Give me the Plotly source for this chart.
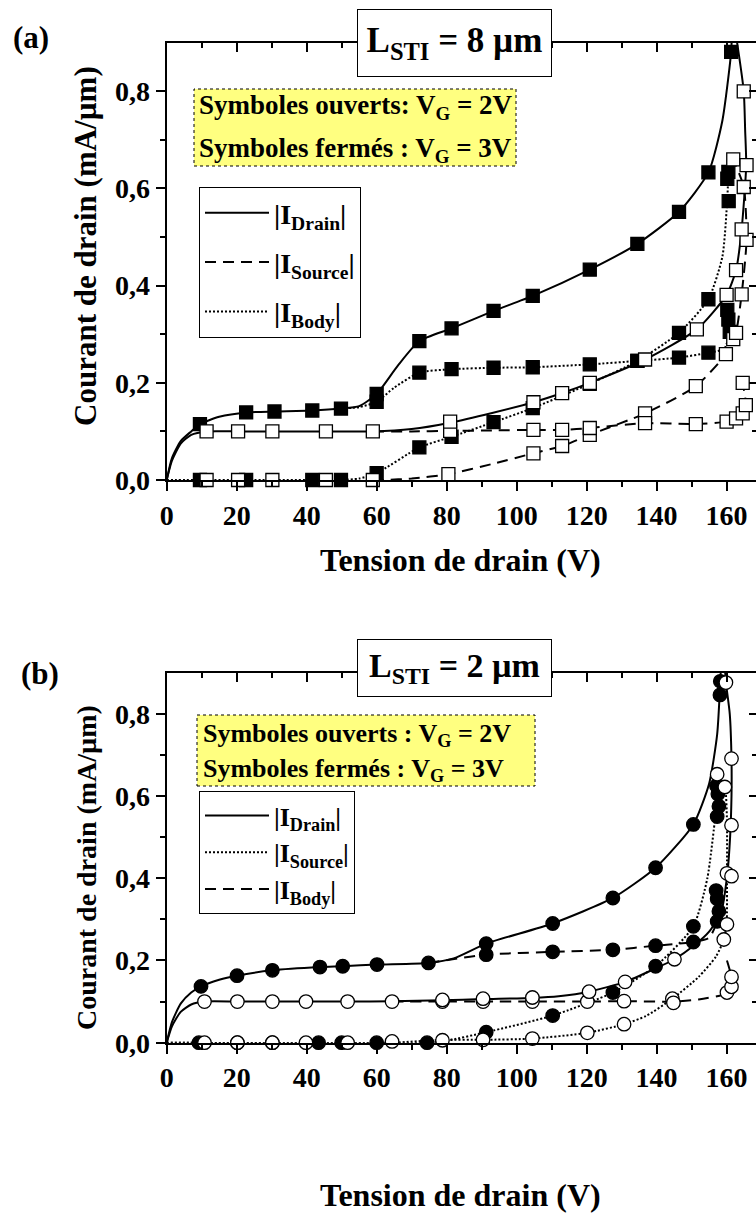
import plotly.graph_objects as go

FONT = "Liberation Serif"

# ---------------- Panel (a) : L_STI = 8 um (squares) ----------------
# VG = 3V (closed symbols)
a_d3_line_v = [0, 1.5, 4, 7, 9.5, 15, 22.7, 30.8, 41.6, 49.8, 55, 60, 66, 72.2, 81.4, 93.4, 104.6, 120.9, 134.5, 146.4, 154.8, 158.8, 161.3, 161.5]
a_d3_line_i = [0, 0.045, 0.08, 0.1, 0.115, 0.13, 0.139, 0.141, 0.143, 0.147, 0.152, 0.177, 0.235, 0.286, 0.312, 0.348, 0.379, 0.433, 0.486, 0.552, 0.633, 0.74, 0.881, 0.92]
a_d3_mark_v = [9.5, 22.7, 30.8, 41.6, 49.8, 60, 72.2, 81.4, 93.4, 104.6, 120.9, 134.5, 146.4, 154.8, 161.3]
a_d3_mark_i = [0.115, 0.139, 0.141, 0.143, 0.147, 0.177, 0.286, 0.312, 0.348, 0.379, 0.433, 0.486, 0.552, 0.633, 0.881]

a_up3_line_v = [49.8, 55, 60, 65, 72.2, 81.4, 93.4, 104.6, 120.9, 134.5, 146.4, 154.8, 159.3, 160.9, 160.5, 160.2]
a_up3_line_i = [0.147, 0.15, 0.161, 0.19, 0.221, 0.228, 0.231, 0.232, 0.238, 0.245, 0.252, 0.262, 0.27, 0.305, 0.33, 0.35]
a_up3_mark_v = [60, 72.2, 81.4, 93.4, 104.6, 120.9, 134.5, 146.4, 154.8, 160.9, 160.5, 160.2]
a_up3_mark_i = [0.161, 0.221, 0.228, 0.231, 0.232, 0.238, 0.245, 0.252, 0.262, 0.305, 0.33, 0.35]

a_lo3_line_v = [0, 9.5, 22.7, 41.6, 49.8, 55, 60, 72.2, 81.4, 93.4, 104.6, 120.9, 134.5, 146.4, 154.8, 158.8, 160.2, 160.5]
a_lo3_line_i = [0, 0, 0, 0, 0, 0.003, 0.014, 0.067, 0.089, 0.119, 0.148, 0.198, 0.245, 0.303, 0.372, 0.46, 0.579, 0.634]
a_lo3_mark_v = [9.5, 22.7, 41.6, 49.8, 60, 72.2, 81.4, 93.4, 104.6, 120.9, 134.5, 146.4, 154.8, 160.6, 160.2, 160.5]
a_lo3_mark_i = [0, 0, 0, 0, 0.014, 0.067, 0.089, 0.119, 0.148, 0.198, 0.245, 0.303, 0.372, 0.574, 0.62, 0.634]

# VG = 2V (open symbols)
a_d2_line_v = [0, 1.5, 4, 7, 11.4, 20.4, 30.2, 45.5, 58.9, 70, 81, 93, 104.8, 113, 120.9, 136.7, 151.5, 160, 162.7, 164.3, 165.6, 165.3, 164.9, 163]
a_d2_line_i = [0, 0.04, 0.075, 0.093, 0.1, 0.1, 0.1, 0.1, 0.1, 0.105, 0.118, 0.138, 0.16, 0.179, 0.2, 0.248, 0.31, 0.381, 0.432, 0.516, 0.648, 0.72, 0.8, 0.9]
a_d2_mark_v = [11.4, 20.4, 30.2, 45.5, 58.9, 81, 104.8, 113, 120.9, 136.7, 151.5, 160, 162.7, 164.3, 165.7, 164.9]
a_d2_mark_i = [0.1, 0.1, 0.1, 0.1, 0.1, 0.12, 0.16, 0.179, 0.2, 0.248, 0.31, 0.381, 0.432, 0.516, 0.648, 0.8]

a_pl2_line_v = [58.9, 70, 81, 93, 104.8, 113, 120.9, 136.7, 151.2, 160, 162.7, 164.6, 165.5, 164.6]
a_pl2_line_i = [0.1, 0.1, 0.101, 0.102, 0.103, 0.103, 0.107, 0.117, 0.115, 0.12, 0.127, 0.137, 0.154, 0.2]
a_pl2_mark_v = [81, 104.8, 113, 120.9, 136.7, 151.2, 160, 162.7, 164.6, 165.5, 164.6]
a_pl2_mark_i = [0.101, 0.103, 0.103, 0.107, 0.117, 0.115, 0.12, 0.127, 0.137, 0.154, 0.2]

a_ri2_line_v = [58.9, 62, 70, 80.5, 93, 104.8, 113, 120.9, 136.7, 151.2, 159.8, 161.9, 162.7, 164.3, 165.7, 164.9, 161.9]
a_ri2_line_i = [0, 0, 0.003, 0.012, 0.033, 0.055, 0.07, 0.093, 0.137, 0.193, 0.259, 0.29, 0.303, 0.382, 0.494, 0.603, 0.66]
a_ri2_mark_v = [11.4, 20.4, 30.2, 45.5, 58.9, 80.5, 104.8, 113, 120.9, 136.7, 151.2, 159.8, 161.9, 162.7, 164.3, 165.7, 164.9, 161.9]
a_ri2_mark_i = [0, 0, 0, 0, 0, 0.012, 0.055, 0.07, 0.093, 0.137, 0.193, 0.259, 0.29, 0.303, 0.382, 0.494, 0.603, 0.66]

# ---------------- Panel (b) : L_STI = 2 um (circles) ----------------
b_d3_line_v = [0, 1.5, 4, 7, 9.8, 15, 20.1, 30.2, 43.8, 50.3, 60.1, 74.8, 82, 91.3, 110.3, 127.5, 139.7, 150.5, 155, 157.3, 158.2, 158.4]
b_d3_line_i = [0, 0.05, 0.095, 0.122, 0.137, 0.153, 0.163, 0.176, 0.184, 0.186, 0.19, 0.194, 0.205, 0.241, 0.29, 0.352, 0.4255, 0.531, 0.63, 0.75, 0.879, 0.92]
b_d3_mark_v = [9.8, 20.1, 30.2, 43.8, 50.3, 60.1, 74.8, 91.3, 110.3, 127.5, 139.7, 150.5, 158.2, 158.1]
b_d3_mark_i = [0.137, 0.163, 0.176, 0.184, 0.186, 0.19, 0.194, 0.241, 0.29, 0.352, 0.4255, 0.531, 0.879, 0.846]

b_up3_line_v = [74.8, 91.3, 110.3, 127.5, 139.7, 150.5, 155, 157.3, 157.8, 157.3, 157]
b_up3_line_i = [0.194, 0.214, 0.221, 0.226, 0.236, 0.245, 0.255, 0.295, 0.32, 0.35, 0.37]
b_up3_mark_v = [91.3, 110.3, 127.5, 139.7, 150.5, 157.3, 157.8, 157.3, 157]
b_up3_mark_i = [0.214, 0.221, 0.226, 0.236, 0.245, 0.295, 0.32, 0.35, 0.37]

b_lo3_line_v = [0, 74.8, 80, 91.3, 110.3, 127.5, 139.7, 150.5, 154.5, 156.8, 157.3, 157.8, 157.3]
b_lo3_line_i = [0, 0, 0.005, 0.0255, 0.066, 0.122, 0.186, 0.283, 0.4, 0.55, 0.575, 0.605, 0.625]
b_lo3_mark_v = [9.2, 20.2, 30.2, 43.4, 50, 60, 74.4, 91.3, 110.3, 127.5, 139.7, 150.5, 157.3, 157.8, 157.5, 157.1]
b_lo3_mark_i = [0, 0, 0, 0, 0, 0, 0, 0.0255, 0.066, 0.122, 0.186, 0.283, 0.55, 0.575, 0.605, 0.625]

b_d2_line_v = [0, 1.5, 4, 7, 10.8, 20.2, 30.2, 39.8, 51.7, 64.4, 78.8, 90.4, 104.5, 112, 120.7, 131, 139.5, 145.1, 150.5, 155, 158.5, 160.2, 161, 161.4, 161.4, 160.9, 159.8, 159.6]
b_d2_line_i = [0, 0.04, 0.075, 0.093, 0.1, 0.1, 0.1, 0.1, 0.1, 0.101, 0.103, 0.106, 0.109, 0.113, 0.124, 0.148, 0.18, 0.203, 0.235, 0.27, 0.32, 0.41, 0.5, 0.6, 0.69, 0.8, 0.876, 0.9]
b_d2_mark_v = [10.8, 20.2, 30.2, 39.8, 51.7, 64.4, 78.8, 90.4, 104.5, 120.7, 131, 145.1, 161.4, 161.4, 159.8]
b_d2_mark_i = [0.1, 0.1, 0.1, 0.1, 0.1, 0.1, 0.104, 0.107, 0.11, 0.124, 0.148, 0.203, 0.529, 0.691, 0.876]

b_pl2_line_v = [64.4, 78.8, 90.4, 104.5, 120.2, 130.7, 144.8, 152, 160, 161.4, 161.4, 160.1]
b_pl2_line_i = [0.1, 0.1, 0.1, 0.1, 0.1, 0.101, 0.1, 0.105, 0.12, 0.136, 0.16, 0.2]
b_pl2_mark_v = [78.8, 90.4, 104.5, 120.2, 130.7, 144.8, 160.1, 161.4, 161.4]
b_pl2_mark_i = [0.1, 0.1, 0.1, 0.1, 0.101, 0.097, 0.122, 0.136, 0.16]

b_ri2_line_v = [0, 64.4, 78.8, 90.4, 104.5, 120.2, 130.7, 137, 144.5, 152, 157, 159.2, 160, 160.1, 160.1, 159.5, 157.3]
b_ri2_line_i = [0, 0, 0.007, 0.007, 0.01, 0.024, 0.045, 0.065, 0.107, 0.16, 0.21, 0.251, 0.288, 0.412, 0.54, 0.622, 0.653]
b_ri2_mark_v = [10.8, 20.2, 30.2, 39.8, 51.7, 64.4, 78.8, 90.4, 104.5, 120.2, 130.7, 144.5, 159.2, 160.1, 160.1, 161.4, 159.5, 157.3]
b_ri2_mark_i = [0, 0, 0, 0, 0, 0.003, 0.006, 0.007, 0.01, 0.024, 0.045, 0.107, 0.251, 0.288, 0.412, 0.405, 0.622, 0.653]

# ---------------- axes / text ----------------
x_range = [0, 168.4]
y_range = [0, 0.9]
x_tickvals = [0, 20, 40, 60, 80, 100, 120, 140, 160]
x_ticktext = ["0", "20", "40", "60", "80", "100", "120", "140", "160"]
y_tickvals = [0.0, 0.2, 0.4, 0.6, 0.8]
y_ticktext = ["0,0", "0,2", "0,4", "0,6", "0,8"]
y_minorvals = [0.1, 0.3, 0.5, 0.7]
x_minorvals = [10, 30, 50, 70, 90, 110, 130, 150, 170]

W, H = 756, 1218
def px(x):
    return x / W
def py(y):
    return 1 - y / H

fig = go.Figure()

SOLID = dict(color="black", width=2)
DASH = dict(color="black", width=2, dash="11px,7px")
DOT = dict(color="black", width=2, dash="2px,2px")

def add_curve(xv, yv, line, xa, ya):
    fig.add_trace(go.Scatter(x=xv, y=yv, mode="lines", line=dict(shape="spline", smoothing=0.6, **line),
                             xaxis=xa, yaxis=ya, showlegend=False, hoverinfo="skip", cliponaxis=True))

def add_marks(xv, yv, symbol, filled, xa, ya, size):
    fig.add_trace(go.Scatter(x=xv, y=yv, mode="markers",
                             marker=dict(symbol=symbol, size=size, color="black" if filled else "white",
                                         line=dict(color="black", width=1.3)),
                             xaxis=xa, yaxis=ya, showlegend=False, hoverinfo="skip", cliponaxis=False))

# panel (a) -> x / y ; panel (b) -> x2 / y2
add_curve(a_lo3_line_v, a_lo3_line_i, DOT, "x", "y")
add_curve(a_up3_line_v, a_up3_line_i, DOT, "x", "y")
add_curve(a_ri2_line_v, a_ri2_line_i, DASH, "x", "y")
add_curve(a_pl2_line_v, a_pl2_line_i, DASH, "x", "y")
add_curve(a_d2_line_v, a_d2_line_i, SOLID, "x", "y")
add_curve(a_d3_line_v, a_d3_line_i, SOLID, "x", "y")
add_marks(a_lo3_mark_v, a_lo3_mark_i, "square", True, "x", "y", 13)
add_marks(a_up3_mark_v, a_up3_mark_i, "square", True, "x", "y", 13)
add_marks(a_d3_mark_v, a_d3_mark_i, "square", True, "x", "y", 13)
add_marks(a_ri2_mark_v, a_ri2_mark_i, "square", False, "x", "y", 13)
add_marks(a_pl2_mark_v, a_pl2_mark_i, "square", False, "x", "y", 13)
add_marks(a_d2_mark_v, a_d2_mark_i, "square", False, "x", "y", 13)

add_curve(b_lo3_line_v, b_lo3_line_i, DOT, "x2", "y2")
add_curve(b_up3_line_v, b_up3_line_i, DASH, "x2", "y2")
add_curve(b_ri2_line_v, b_ri2_line_i, DOT, "x2", "y2")
add_curve(b_pl2_line_v, b_pl2_line_i, DASH, "x2", "y2")
add_curve(b_d2_line_v, b_d2_line_i, SOLID, "x2", "y2")
add_curve(b_d3_line_v, b_d3_line_i, SOLID, "x2", "y2")
add_marks(b_lo3_mark_v, b_lo3_mark_i, "circle", True, "x2", "y2", 13.5)
add_marks(b_up3_mark_v, b_up3_mark_i, "circle", True, "x2", "y2", 13.5)
add_marks(b_d3_mark_v, b_d3_mark_i, "circle", True, "x2", "y2", 13.5)
add_marks(b_ri2_mark_v, b_ri2_mark_i, "circle", False, "x2", "y2", 13.5)
add_marks(b_pl2_mark_v, b_pl2_mark_i, "circle", False, "x2", "y2", 13.5)
add_marks(b_d2_mark_v, b_d2_mark_i, "circle", False, "x2", "y2", 13.5)

# mirror axes (top/right, inward ticks)
for xa, ya in (("x3", "y3"), ("x4", "y4")):
    fig.add_trace(go.Scatter(x=[None], y=[None], xaxis=xa, yaxis=ya, showlegend=False, hoverinfo="skip"))

# legend entries
legend_a = [("|I<sub>Drain</sub>|", SOLID), ("|I<sub>Source</sub>|", DASH), ("|I<sub>Body</sub>|", DOT)]
legend_b = [("|I<sub>Drain</sub>|", SOLID), ("|I<sub>Source</sub>|", DOT), ("|I<sub>Body</sub>|", DASH)]
for k, (name, ln) in enumerate(legend_a):
    fig.add_trace(go.Scatter(x=[None], y=[None], mode="lines", line=ln, name=name, legend="legend",
                             legendgroup="a%d" % k, xaxis="x", yaxis="y", hoverinfo="skip"))
for k, (name, ln) in enumerate(legend_b):
    fig.add_trace(go.Scatter(x=[None], y=[None], mode="lines", line=ln, name=name, legend="legend2",
                             legendgroup="b%d" % k, xaxis="x2", yaxis="y2", hoverinfo="skip"))

# geometry (pixels)
X0 = 166.7
a_top, a_bot = 42.7, 480.0
b_top, b_bot = 672.7, 1042.7
xdom = [px(X0), 1.0]
ya_dom = [py(a_bot), py(a_top)]
yb_dom = [py(b_bot), py(b_top)]

tickfont = dict(family=FONT, size=28, color="black", weight="bold")

def xaxis_main(anchor):
    return dict(domain=xdom, range=x_range, anchor=anchor, showline=True, linecolor="black", linewidth=2,
                ticks="outside", ticklen=9, tickwidth=2, tickcolor="black", automargin=False,
                tickmode="array", tickvals=x_tickvals, ticktext=x_ticktext, tickfont=tickfont,
                minor=dict(tickmode="array", tickvals=x_minorvals, ticks="outside", ticklen=5, tickwidth=2, tickcolor="black"),
                showgrid=False, zeroline=False, fixedrange=True)

def yaxis_main(dom, anchor):
    return dict(domain=dom, range=y_range, anchor=anchor, showline=True, linecolor="black", linewidth=2,
                ticks="outside", ticklen=9, tickwidth=2, tickcolor="black", automargin=False,
                tickmode="array", tickvals=y_tickvals, ticktext=y_ticktext, tickfont=tickfont,
                minor=dict(tickmode="array", tickvals=y_minorvals, ticks="outside", ticklen=5, tickwidth=2, tickcolor="black"),
                showgrid=False, zeroline=False, fixedrange=True)

def xaxis_top(over, anchor):
    return dict(overlaying=over, side="top", anchor=anchor, range=x_range, showline=True, linecolor="black", linewidth=2,
                ticks="inside", ticklen=9, tickwidth=2, tickcolor="black", tickmode="array", tickvals=x_tickvals,
                showticklabels=False, automargin=False, tickfont=tickfont,
                minor=dict(tickmode="array", tickvals=x_minorvals, ticks="inside", ticklen=5, tickwidth=2, tickcolor="black"),
                showgrid=False, zeroline=False, fixedrange=True)

def yaxis_right(over, anchor):
    return dict(overlaying=over, side="right", anchor=anchor, range=y_range, showline=False,
                ticks="inside", ticklen=7, tickwidth=2, tickcolor="black", tickmode="array", tickvals=y_tickvals,
                showticklabels=False, automargin=False, tickfont=tickfont,
                minor=dict(tickmode="array", tickvals=y_minorvals, ticks="inside", ticklen=4, tickwidth=2, tickcolor="black"),
                showgrid=False, zeroline=False, fixedrange=True)

legend_common = dict(bgcolor="white", bordercolor="black", borderwidth=1,
                     itemwidth=64, traceorder="grouped", xanchor="left", yanchor="top",
                     itemclick=False, itemdoubleclick=False)

fig.update_layout(
    width=W, height=H, margin=dict(l=0, r=0, t=0, b=0, pad=0), autosize=False,
    font=dict(family=FONT, size=26, color="black"),
    paper_bgcolor="white", plot_bgcolor="white", hovermode=False,
    xaxis=xaxis_main("y"), yaxis=yaxis_main(ya_dom, "x"),
    xaxis2=xaxis_main("y2"), yaxis2=yaxis_main(yb_dom, "x2"),
    xaxis3=xaxis_top("x", "y3"), yaxis3=yaxis_right("y", "x3"),
    xaxis4=xaxis_top("x2", "y4"), yaxis4=yaxis_right("y2", "x4"),
    legend=dict(x=px(199), y=py(187), tracegroupgap=10,
                font=dict(family=FONT, size=28, color="black", weight="bold"), **legend_common),
    legend2=dict(x=px(199), y=py(791), tracegroupgap=0,
                 font=dict(family=FONT, size=26, color="black", weight="bold"), **legend_common),
)

bold = lambda s: dict(family=FONT, size=s, color="black", weight="bold")

# yellow note boxes (dotted border)
for (x0, y0, x1, y1) in ((194, 89, 516, 166), (197, 715, 535, 786)):
    fig.add_shape(type="rect", xref="paper", yref="paper", x0=px(x0), x1=px(x1), y0=py(y1), y1=py(y0),
                  fillcolor="#ffff80", line=dict(color="black", width=1, dash="dot"), layer="below")

notes = [
    (197, 107, "Symboles ouverts: V<sub>G</sub> = 2V", 27),
    (197, 150, "Symboles fermés : V<sub>G</sub> = 3V", 27),
    (201, 735, "Symboles ouverts : V<sub>G</sub> = 2V", 26),
    (201, 770, "Symboles fermés : V<sub>G</sub> = 3V", 26),
]
for x, y, t, s in notes:
    fig.add_annotation(x=px(x), y=py(y), xref="paper", yref="paper", text=t, showarrow=False,
                       xanchor="left", yanchor="middle", font=bold(s))

# title boxes
for y, t, h, s in ((42.5, "L<sub>STI</sub> = 8 µm", 66, 35), (668, "L<sub>STI</sub> = 2 µm", 56, 34)):
    fig.add_annotation(x=px(454.5), y=py(y), xref="paper", yref="paper", text=t, showarrow=False,
                       xanchor="center", yanchor="middle", font=bold(s), bgcolor="white",
                       bordercolor="black", borderwidth=1, borderpad=0, width=193, height=h,
                       align="center", valign="middle")

# panel labels
fig.add_annotation(x=px(11), y=py(38), xref="paper", yref="paper", text="(a)", showarrow=False,
                   xanchor="left", yanchor="middle", font=bold(31))
fig.add_annotation(x=px(19), y=py(673), xref="paper", yref="paper", text="(b)", showarrow=False,
                   xanchor="left", yanchor="middle", font=bold(31))

# axis titles
for yc, s in ((246, 31), (868, 28)):
    fig.add_annotation(x=px(86), y=py(yc), xref="paper", yref="paper", text="Courant de drain (mA/µm)",
                       showarrow=False, textangle=-90, xanchor="center", yanchor="middle", font=bold(s))
for yc in (560, 1195):
    fig.add_annotation(x=px(460), y=py(yc), xref="paper", yref="paper", text="Tension de drain (V)",
                       showarrow=False, xanchor="center", yanchor="middle", font=bold(32))

fig.write_html("out.html", config=dict(displayModeBar=False, staticPlot=True),
               post_script="document.body.style.margin='0px';document.body.style.overflow='hidden';")
